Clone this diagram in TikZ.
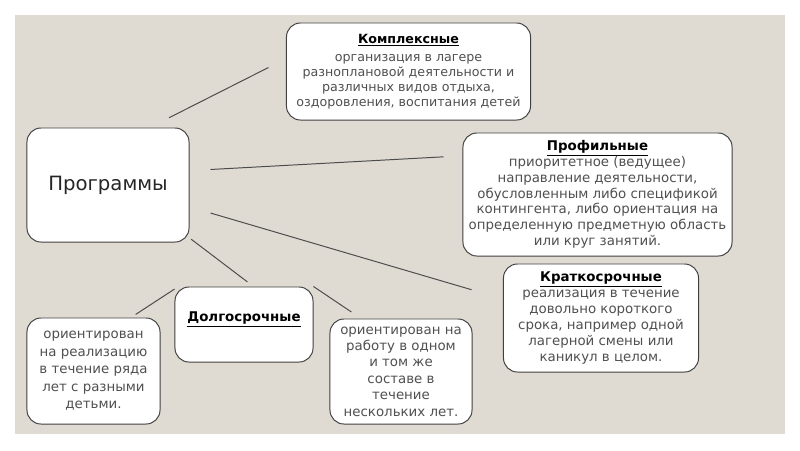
\documentclass[tikz,border=0pt]{standalone}
\usepackage{fontspec}
\setmainfont{DejaVu Sans}
\usetikzlibrary{calc}
\definecolor{sand}{RGB}{224,219,210}
\definecolor{bodygray}{RGB}{80,80,80}
\tikzset{
  block/.style={
    draw=black!75,
    line width=0.7pt,
    rounded corners=3.5mm,
    fill=white,
    align=center,
    inner sep=1pt,
    text=bodygray,
    font=\fontsize{9.5}{11.4}\selectfont
  },
  link/.style={draw=black!70, line width=0.7pt}
}
\newcommand{\boxtitle}[1]{\textcolor{black}{\underline{\textbf{#1}}}}

\begin{document}
\begin{tikzpicture}[x=0.025cm, y=-0.025cm]

  % -------------------------------------------------------------------
  % background
  % -------------------------------------------------------------------
  \useasboundingbox (0,0) rectangle (800,450);
  \fill[white] (0,0) rectangle (800,450);
  \fill[sand] (15,15) rectangle (785,434);

  % -------------------------------------------------------------------
  % boxes
  % -------------------------------------------------------------------
  \node[block, minimum width=40.5mm, minimum height=28.5mm, text=black!85,
        font=\fontsize{14}{17}\selectfont] (prog) at (108,185) {Программы};
  \node[block, minimum width=61mm, minimum height=24.25mm,
        font=\fontsize{9}{10.7}\selectfont] (kompl) at (408.5,71.5)
    {\boxtitle{Комплексные}\\[2pt] организация в лагере\\ разноплановой деятельности и\\
     различных видов отдыха,\\ оздоровления, воспитания детей};
  \node[block, minimum width=67.25mm, minimum height=30.75mm,
        font=\fontsize{9.5}{11.2}\selectfont] (profil) at (597.5,194.5)
    {\boxtitle{Профильные}\\ приоритетное (ведущее)\\ направление деятельности,\\
     обусловленным либо спецификой\\ контингента, либо ориентация на\\
     определенную предметную область\\ или круг занятий.};
  \node[block, minimum width=48.75mm, minimum height=27mm,
        font=\fontsize{9.5}{11.5}\selectfont] (kratk) at (601,318)
    {\boxtitle{Краткосрочные}\\ реализация в течение\\ довольно короткого\\
     срока, например одной\\ лагерной смены или\\ каникул в целом.};
  \node[block, minimum width=34.5mm, minimum height=18.75mm,
        text height=7pt, text depth=11pt] (dolgo) at (244,324.5)
    {\boxtitle{Долгосрочные}};
  \node[block, minimum width=33.25mm, minimum height=26.5mm,
        font=\fontsize{9.5}{12.4}\selectfont] (longa) at (93.5,371)
    {ориентирован\\ на реализацию\\ в течение ряда\\ лет с разными\\ детьми.};
  \node[block, minimum width=35.5mm, minimum height=26.25mm,
        font=\fontsize{9.5}{11.7}\selectfont] (longb) at (401,371.5)
    {ориентирован на\\ работу в одном\\ и том же\\ составе в\\ течение\\ нескольких лет.};

  % -------------------------------------------------------------------
  % links
  % -------------------------------------------------------------------
  \draw[link, shorten <=5.4mm, shorten >=4.9mm] (prog.54) -- (kompl.174);
  \draw[link, shorten <=5.25mm, shorten >=4.75mm] (prog.10) -- (profil.164);
  \draw[link, shorten <=5.5mm, shorten >=8.2mm] (prog.345) -- (kratk.169);
  \draw[link, shorten <=0.5mm, shorten >=1.9mm] (prog.327) -- (dolgo.76);
  \draw[link, shorten <=1.4mm] (longa.55) -- (dolgo.153);
  \draw[link, shorten >=2.9mm] (dolgo.north east) -- (longb.127);

\end{tikzpicture}
\end{document}
